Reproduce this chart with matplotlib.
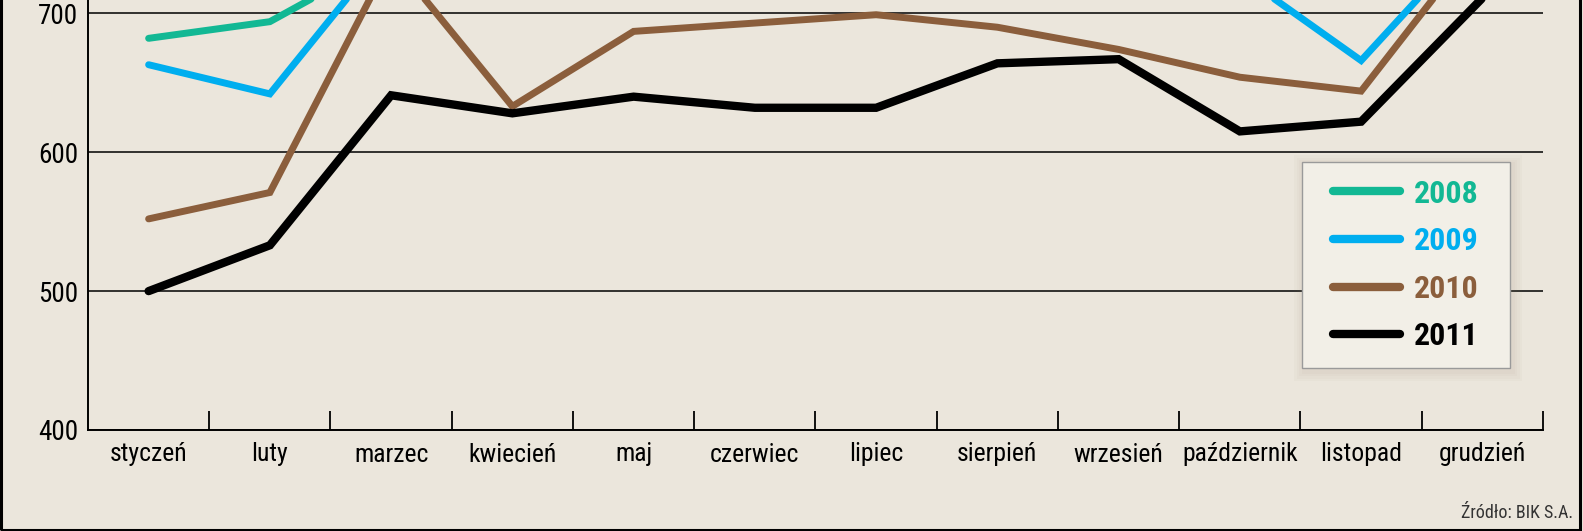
import numpy as np
import matplotlib
matplotlib.use("Agg")
import matplotlib.pyplot as plt
from matplotlib import font_manager
from matplotlib.patches import Rectangle
from matplotlib.lines import Line2D

months = ["styczeń", "luty", "marzec", "kwiecień", "maj", "czerwiec", "lipiec",
          "sierpień", "wrzesień", "październik", "listopad", "grudzień"]
nan = np.nan
s2008 = [682, 694, 742, nan, nan, nan, nan, nan, nan, nan, nan, nan]
s2009 = [663, 642, 750, nan, nan, nan, nan, nan, nan, 728, 666, 761]
s2010 = [552, 571, 740, 633, 687, 693, 699, 690, 674, 654, 644, 756]
s2011 = [500, 533, 641, 628, 640, 632, 632, 664, 667, 615, 622, 711]
series_names = ["2008", "2009", "2010", "2011"]
yticks = [400, 500, 600, 700]

colors = ["#12b894", "#00aeef", "#8b5e3c", "#000000"]
widths = [5.0, 5.0, 5.0, 6.0]

# find a condensed / narrow font
entries = font_manager.fontManager.ttflist
def pick(bold):
    prefs = ['liberationsansnarrow', 'robotocondensed', 'opensanscondensed',
             'dejavusanscondensed', 'notosanscondensed']
    for p in prefs:
        for f in entries:
            fn = f.fname.split('/')[-1].lower().replace('-', '').replace('_', '')
            isb = 'bold' in fn
            if fn.startswith(p) and isb == bold and not any(k in fn for k in
                    ('italic', 'oblique', 'light', 'semi', 'extra', 'medium', 'black', 'thin')):
                return f.fname
    return None
reg_path = pick(False)
bold_path = pick(True)
if reg_path:
    FP = lambda size: font_manager.FontProperties(fname=reg_path, size=size)
else:
    FP = lambda size: font_manager.FontProperties(family='DejaVu Sans', stretch='condensed', size=size)
if bold_path:
    FPB = lambda size: font_manager.FontProperties(fname=bold_path, size=size)
else:
    FPB = lambda size: font_manager.FontProperties(family='DejaVu Sans', stretch='condensed', weight='bold', size=size)

BG = "#ebe6dc"
W, H = 1583, 531
fig = plt.figure(figsize=(W / 100, H / 100), dpi=100, facecolor=BG)
ax = fig.add_axes([88 / W, (H - 430) / H, (1543 - 88) / W, 430 / H])
ax.set_facecolor(BG)

x = np.arange(len(months)) + 0.5
for vals, c, lw, nm in zip([s2008, s2009, s2010, s2011], colors, widths, series_names):
    ax.plot(x, vals, color=c, lw=lw, solid_capstyle='round', solid_joinstyle='miter', label=nm, zorder=3)

ax.set_xlim(0, 12)
ax.set_ylim(400, 709.6)
ax.set_yticks(yticks)
ax.set_yticklabels([str(v) for v in yticks])
for t in ax.get_yticklabels():
    t.set_fontproperties(FP(19.5))
ax.tick_params(axis='y', length=0, pad=7)
ax.set_xticks(np.arange(1, 13))
ax.set_xticklabels([])
ax.tick_params(axis='x', which='major', direction='in', length=14, width=1.3, color='black')
ax.set_xticks(x, minor=True)
ax.set_xticklabels(months, minor=True)
for t in ax.get_xticklabels(minor=True):
    t.set_fontproperties(FP(18.5))
ax.tick_params(axis='x', which='minor', length=0, pad=9)
ax.yaxis.grid(True, color='black', lw=1.1, zorder=1)
ax.set_axisbelow(True)
for s in ['top', 'right']:
    ax.spines[s].set_visible(False)
for s in ['left', 'bottom']:
    ax.spines[s].set_linewidth(1.4)

# legend: manual frame (in axes, above lines) + frameless figure legend on top
lx0, ltop, lx1, lbot = 1302, 162, 1510, 368
for i in range(4):
    g = 10 - i * 2.5
    ax.add_patch(Rectangle(((lx0 - g + 2) / W, (H - lbot - g - 3) / H), (lx1 - lx0 + 2 * g) / W,
                           (lbot - ltop + 2 * g) / H, transform=fig.transFigure, clip_on=False,
                           facecolor='#8a7a5a', alpha=0.03, edgecolor='none', zorder=4))
ax.add_patch(Rectangle((lx0 / W, (H - lbot) / H), (lx1 - lx0) / W, (lbot - ltop) / H,
                       transform=fig.transFigure, clip_on=False, facecolor='#f2efe7',
                       edgecolor='#9a9a9a', lw=1.0, zorder=5))
handles = [Line2D([0], [0], color=c, lw=6, solid_capstyle='round') for c in colors]
leg = ax.legend(handles, series_names, loc='center',
                bbox_to_anchor=((lx0 + lx1) / 2 / W, (H - (ltop + lbot) / 2) / H),
                bbox_transform=fig.transFigure, borderaxespad=0, prop=FPB(23),
                handlelength=2.1, handletextpad=0.45, labelspacing=0.55, borderpad=0.3,
                frameon=False)
leg.set_zorder(10)
for t, c in zip(leg.get_texts(), colors):
    t.set_color(c)

fig.text(1573 / W, (H - 513) / H, "Źródło: BIK S.A.", ha='right', va='center',
         fontproperties=FP(13), color='#333333')

fig.patches.append(Rectangle((1.2 / W, 1.5 / H), (W - 4.5) / W, 1.2, transform=fig.transFigure,
                             fill=False, edgecolor='black', lw=2.2, zorder=10))

fig.savefig("out.png", dpi=100, facecolor=BG)
